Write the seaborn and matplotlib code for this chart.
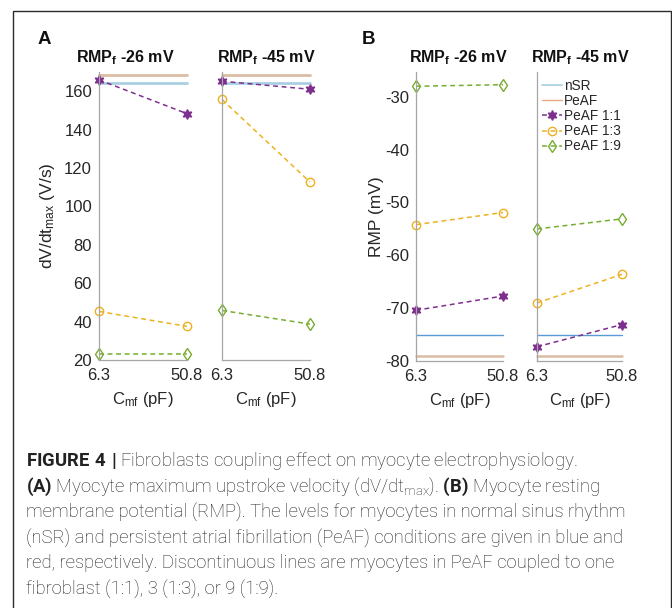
import matplotlib
matplotlib.use("Agg")
import matplotlib.pyplot as plt
import seaborn as sns
from matplotlib.lines import Line2D
from matplotlib.patches import Rectangle

# x values: myofibroblast capacitance
cmf = [6.3, 50.8]
cmf_ticks = ["6.3", "50.8"]
rmpf_titles = [r"RMP$_\mathregular{f}$ -26 mV", r"RMP$_\mathregular{f}$ -45 mV"]
series_names = ["nSR", "PeAF", "PeAF 1:1", "PeAF 1:3", "PeAF 1:9"]

# panel A: dV/dt max (V/s)
dvdt_nsr = 164.2
dvdt_peaf = 168.3
dvdt_11_m26 = [165.9, 148.3]
dvdt_13_m26 = [45.3, 37.5]
dvdt_19_m26 = [23.0, 23.0]
dvdt_11_m45 = [165.2, 161.0]
dvdt_13_m45 = [155.7, 112.7]
dvdt_19_m45 = [45.8, 38.7]
dvdt_ticks = [20, 40, 60, 80, 100, 120, 140, 160]

# panel B: resting membrane potential (mV)
rmp_nsr = -75.0
rmp_peaf = -79.0
rmp_11_m26 = [-70.4, -67.7]
rmp_13_m26 = [-54.2, -51.9]
rmp_19_m26 = [-28.0, -27.7]
rmp_11_m45 = [-77.3, -73.1]
rmp_13_m45 = [-69.0, -63.6]
rmp_19_m45 = [-55.0, -53.1]
rmp_ticks = [-80, -70, -60, -50, -40, -30]

caption_lines = [
    r"$\mathbf{FIGURE\ 4\ |}$ Fibroblasts coupling effect on myocyte electrophysiology.",
    r"$\mathbf{(A)}$ Myocyte maximum upstroke velocity (dV/dt$_{\mathregular{max}}$). $\mathbf{(B)}$ Myocyte resting",
    "membrane potential (RMP). The levels for myocytes in normal sinus rhythm",
    "(nSR) and persistent atrial fibrillation (PeAF) conditions are given in blue and",
    "red, respectively. Discontinuous lines are myocytes in PeAF coupled to one",
    "fibroblast (1:1), 3 (1:3), or 9 (1:9).",
]

C_NSR_A = "#a9cfe2"
C_NSR_B = "#5b9bd5"
C_PEAF = "#dcbca4"
C_11 = "#7e2f8e"
C_13 = "#edb120"
C_19 = "#77ac30"
STAR = (6, 1, 0)

sns.set_style("white")
plt.rcParams["font.family"] = ["Liberation Sans", "DejaVu Sans"]
plt.rcParams["axes.unicode_minus"] = False
plt.rcParams["mathtext.default"] = "regular"
plt.rcParams["mathtext.fontset"] = "custom"
plt.rcParams["mathtext.bf"] = "Roboto:bold"
plt.rcParams["mathtext.rm"] = "Roboto:light"

W, H = 672, 608
fig = plt.figure(figsize=(W / 100, H / 100), dpi=100)


def add_ax(left, right, top, bottom):
    return fig.add_axes([left / W, 1 - bottom / H, (right - left) / W, (bottom - top) / H])


def level(ax, value, color, lw):
    sns.lineplot(x=cmf, y=[value, value], ax=ax, color=color, lw=lw, clip_on=False)


def series(ax, values, color, marker, filled, ms):
    sns.lineplot(x=cmf, y=values, ax=ax, color=color, lw=1.1, linestyle=(0, (3.2, 2.4)),
                 marker=marker, markersize=ms, markeredgecolor=color, markeredgewidth=1.0,
                 markerfacecolor=color if filled else "none", clip_on=False)


def style_axes(ax, ylim, yticks, show_labels):
    ax.set_xlim(cmf[0], cmf[1])
    ax.set_ylim(*ylim)
    ax.set_xticks(cmf)
    ax.set_xticklabels(cmf_ticks)
    ax.set_yticks(yticks)
    if not show_labels:
        ax.set_yticklabels([])
    for s in ["top", "right"]:
        ax.spines[s].set_visible(False)
    for s in ["left", "bottom"]:
        ax.spines[s].set_color("#a6a6a6")
        ax.spines[s].set_linewidth(0.9)
    ax.tick_params(axis="both", direction="in", length=3, width=0.8, color="#a6a6a6",
                   labelsize=12, labelcolor="#262626")
    ax.tick_params(axis="x", pad=6)
    ax.tick_params(axis="y", pad=5)
    ax.set_xlabel(r"C$_{\mathregular{mf}}$ (pF)", fontsize=12, color="#262626", labelpad=5)
    ax.patch.set_alpha(0)


ax_a1 = add_ax(99, 187, 72, 360)
ax_a2 = add_ax(222, 310, 72, 360)
ax_b1 = add_ax(416, 503, 72, 361)
ax_b2 = add_ax(537, 622, 72, 361)

for ax, s11, s13, s19 in [(ax_a1, dvdt_11_m26, dvdt_13_m26, dvdt_19_m26),
                          (ax_a2, dvdt_11_m45, dvdt_13_m45, dvdt_19_m45)]:
    level(ax, dvdt_peaf, C_PEAF, 2.0)
    level(ax, dvdt_nsr, C_NSR_A, 2.0)
    series(ax, s11, C_11, STAR, True, 7)
    series(ax, s13, C_13, "o", False, 6)
    series(ax, s19, C_19, "d", False, 6.5)
    style_axes(ax, (20, 170), dvdt_ticks, ax is ax_a1)

for ax, s11, s13, s19 in [(ax_b1, rmp_11_m26, rmp_13_m26, rmp_19_m26),
                          (ax_b2, rmp_11_m45, rmp_13_m45, rmp_19_m45)]:
    level(ax, rmp_peaf, C_PEAF, 1.8)
    level(ax, rmp_nsr, C_NSR_B, 1.0)
    series(ax, s11, C_11, STAR, True, 7)
    series(ax, s13, C_13, "o", False, 6)
    series(ax, s19, C_19, "d", False, 6.5)
    style_axes(ax, (-80, -25.3), rmp_ticks, ax is ax_b1)

ax_a1.set_ylabel(r"dV/dt$_{\mathregular{max}}$ (V/s)", fontsize=12.5, color="#262626", labelpad=5)
ax_b1.set_ylabel("RMP (mV)", fontsize=12.5, color="#262626", labelpad=1)

# titles above each axes
for xc, title in zip([125, 266, 458, 580], rmpf_titles * 2):
    fig.text(xc / W, 1 - 62.5 / H, title, ha="center", va="baseline",
             fontsize=11.5, fontweight="bold", color="#111111")

fig.text(38 / W, 1 - 44 / H, "A", fontsize=13.5, fontweight="bold", color="#111111")
fig.text(362 / W, 1 - 44 / H, "B", fontsize=13.5, fontweight="bold", color="#111111")

handles = [
    Line2D([], [], color=C_NSR_A, lw=1.2),
    Line2D([], [], color="#e8a88a", lw=1.0),
    Line2D([], [], color=C_11, lw=1.1, ls=(0, (3.2, 2.4)), marker=STAR, ms=7, mfc=C_11, mec=C_11),
    Line2D([], [], color=C_13, lw=1.1, ls=(0, (3.2, 2.4)), marker="o", ms=6, mfc="none", mec=C_13),
    Line2D([], [], color=C_19, lw=1.1, ls=(0, (3.2, 2.4)), marker="d", ms=6.5, mfc="none", mec=C_19),
]
ax_b2.legend(handles, series_names, loc="upper left", bbox_to_anchor=(542 / W, 1 - 79 / H),
             bbox_transform=fig.transFigure, frameon=False, fontsize=9.8, borderpad=0,
             borderaxespad=0, handlelength=1.45, handletextpad=0.15, labelspacing=0.08,
             numpoints=1)

# caption
for i, line in enumerate(caption_lines):
    fig.text(26 / W, 1 - (466 + 25.6 * i) / H, line, ha="left", va="baseline",
             fontsize=13.3, family="Roboto", fontweight="light", color="#222222")

fig.add_artist(Rectangle((13 / W, -0.05), (671 - 13) / W, 1.05 - 11 / H,
                         transform=fig.transFigure, fill=False, edgecolor="#2b2b2b", lw=1.0))

fig.savefig("out.png", dpi=100)
